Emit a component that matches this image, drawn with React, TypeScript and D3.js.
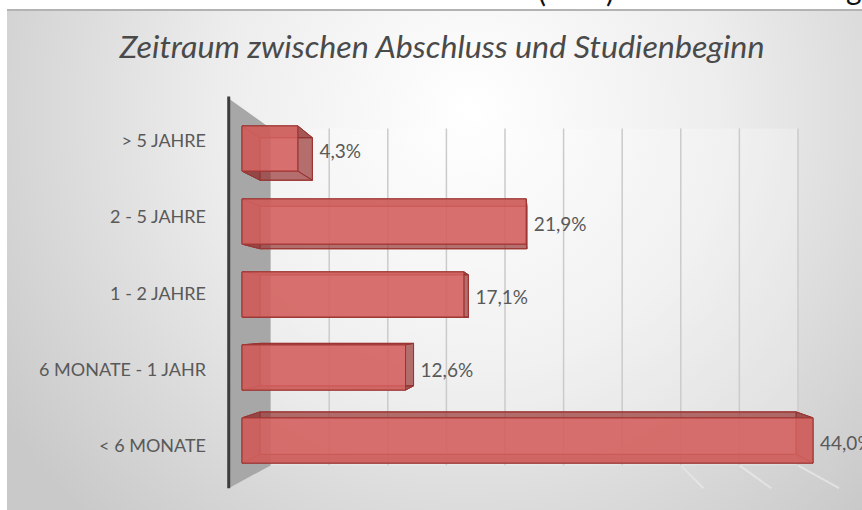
import React, { useRef, useEffect } from "react";
import * as d3 from "d3";

const categories = ["> 5 JAHRE", "2 - 5 JAHRE", "1 - 2 JAHRE", "6 MONATE - 1 JAHR", "< 6 MONATE"];
const values = [4.3, 21.9, 17.1, 12.6, 44.0];
const title = "Zeitraum zwischen Abschluss und Studienbeginn";

const W = 862;
const H = 510;

const App = () => {
  const ref = useRef<SVGSVGElement | null>(null);

  useEffect(() => {
    if (!ref.current) return;
    const svg = d3.select(ref.current);
    svg.selectAll("*").remove();

    // perspective: vanishing point and depth factors
    const vp = [537, 320];
    const sBarBack = 0.939;
    const sWallBack = 0.903;
    const sWallFront = 1.045;
    const proj = (x: number, y: number, s: number) => [vp[0] + s * (x - vp[0]), vp[1] + s * (y - vp[1])];

    const x = d3.scaleLinear().domain([0, 45]).range([242, 826]);
    const y = d3.scaleBand().domain(categories).range([108, 481]).paddingInner(0.38).paddingOuter(0.245);
    const yTop = 108;
    const yBot = 481;

    const fmt = d3.formatLocale({ decimal: ",", thousands: ".", grouping: [3], currency: ["", "€"] }).format(".1f");

    const defs = svg.append("defs");
    const bg = defs
      .append("radialGradient")
      .attr("id", "bg")
      .attr("gradientUnits", "userSpaceOnUse")
      .attr("cx", 470)
      .attr("cy", 110)
      .attr("r", 560);
    bg.append("stop").attr("offset", "0%").attr("stop-color", "#ffffff");
    bg.append("stop").attr("offset", "45%").attr("stop-color", "#ededed");
    bg.append("stop").attr("offset", "100%").attr("stop-color", "#c9c9c9");

    const fade = defs
      .append("linearGradient")
      .attr("id", "fade")
      .attr("gradientUnits", "userSpaceOnUse")
      .attr("x1", 640)
      .attr("x2", 700)
      .attr("y1", 0)
      .attr("y2", 0);
    fade.append("stop").attr("offset", "0%").attr("stop-color", "#000");
    fade.append("stop").attr("offset", "100%").attr("stop-color", "#aaa");
    defs
      .append("mask")
      .attr("id", "floorMask")
      .append("rect")
      .attr("x", 0)
      .attr("y", 0)
      .attr("width", W)
      .attr("height", H)
      .attr("fill", "url(#fade)");

    // page strip + chart area
    svg.append("rect").attr("width", W).attr("height", H).attr("fill", "#ffffff");
    const top = svg.append("g").attr("font-family", "Lato, sans-serif").attr("font-size", 30).attr("fill", "#111");
    top.append("text").attr("x", 538).attr("y", 2).text("(");
    top.append("text").attr("x", 606).attr("y", 2).text(")");
    top.append("text").attr("x", 846).attr("y", 0).text("g");
    svg.append("rect").attr("x", 7).attr("y", 10).attr("width", W - 7).attr("height", H - 10).attr("fill", "url(#bg)");
    svg.append("line").attr("x1", 7).attr("x2", W).attr("y1", 10).attr("y2", 10).attr("stroke", "#b3b3b3").attr("stroke-width", 2);

    // back wall
    const bw0 = proj(x(0), yTop, sWallBack);
    const bw1 = proj(x(45), yBot, sWallBack);
    svg
      .append("rect")
      .attr("x", bw0[0])
      .attr("y", bw0[1])
      .attr("width", bw1[0] - bw0[0])
      .attr("height", bw1[1] - bw0[1])
      .attr("fill", "#ffffff")
      .attr("opacity", 0.25);

    const ticks = x.ticks(10);

    // vertical gridlines on back wall
    svg
      .append("g")
      .selectAll("line")
      .data(ticks.filter((t) => t > 0))
      .enter()
      .append("line")
      .attr("x1", (d) => proj(x(d), yTop, sWallBack)[0])
      .attr("x2", (d) => proj(x(d), yBot, sWallBack)[0])
      .attr("y1", (d) => proj(x(d), yTop, sWallBack)[1])
      .attr("y2", (d) => proj(x(d), yBot, sWallBack)[1])
      .attr("stroke", "#cbcbcb")
      .attr("stroke-width", 1.5);

    // floor gridlines
    svg
      .append("g")
      .attr("mask", "url(#floorMask)")
      .selectAll("line")
      .data(ticks.filter((t) => t > 0))
      .enter()
      .append("line")
      .attr("x1", (d) => proj(x(d), yBot, sWallBack)[0])
      .attr("y1", (d) => proj(x(d), yBot, sWallBack)[1])
      .attr("x2", (d) => proj(x(d), yBot, sWallFront)[0])
      .attr("y2", (d) => proj(x(d), yBot, sWallFront)[1])
      .attr("stroke", "#ececec")
      .attr("stroke-width", 2);

    // side wall
    const wallPts = [
      proj(x(0), yTop, sWallFront),
      proj(x(0), yTop, sWallBack),
      proj(x(0), yBot, sWallBack),
      proj(x(0), yBot, sWallFront),
    ];
    svg.append("polygon").attr("points", wallPts.map((p) => p.join(",")).join(" ")).attr("fill", "#a7a7a7");
    svg
      .append("line")
      .attr("x1", wallPts[0][0])
      .attr("y1", wallPts[0][1] - 2)
      .attr("x2", wallPts[3][0])
      .attr("y2", wallPts[3][1])
      .attr("stroke", "#3d3d3d")
      .attr("stroke-width", 3);

    // bars
    const bars = svg.append("g").attr("stroke", "#9b3533").attr("stroke-width", 1).attr("stroke-linejoin", "round");
    const poly = (pts: number[][]) => pts.map((p) => p.join(",")).join(" ");
    categories.forEach((c, i) => {
      const x0 = x(0);
      const x1 = x(values[i]);
      const y0 = y(c) as number;
      const y1 = y0 + y.bandwidth();
      const F = [[x0, y0], [x1, y0], [x1, y1], [x0, y1]];
      const B = F.map((p) => proj(p[0], p[1], sBarBack));
      bars.append("polygon").attr("points", poly(B)).attr("fill", "#c0504d").attr("fill-opacity", 0.35);
      const sides = [
        [F[0], F[1], B[1], B[0]],
        [F[3], F[2], B[2], B[3]],
        [F[0], F[3], B[3], B[0]],
        [F[1], F[2], B[2], B[1]],
      ];
      sides.forEach((s) => {
        bars.append("polygon").attr("points", poly(s)).attr("fill", "#8e2f2d").attr("fill-opacity", 0.55);
      });
      bars.append("polygon").attr("points", poly(F)).attr("fill", "#d3625f").attr("fill-opacity", 0.85);
    });

    // category labels
    svg
      .append("g")
      .selectAll("text")
      .data(categories)
      .enter()
      .append("text")
      .attr("x", 206)
      .attr("y", (d) => proj(x(0), (y(d) as number) + y.bandwidth() / 2, sWallFront)[1])
      .attr("dy", "0.35em")
      .attr("text-anchor", "end")
      .attr("font-family", "Lato, sans-serif")
      .attr("font-size", 18)
      .attr("fill", "#595959")
      .text((d) => d);

    // value labels
    svg
      .append("g")
      .selectAll("text")
      .data(categories)
      .enter()
      .append("text")
      .attr("x", (d, i) => Math.max(x(values[i]), proj(x(values[i]), 0, sBarBack)[0]) + 7)
      .attr("y", (d) => (y(d) as number) + y.bandwidth() / 2 + 3)
      .attr("dy", "0.35em")
      .attr("font-family", "Lato, sans-serif")
      .attr("font-size", 19)
      .attr("fill", "#595959")
      .text((d, i) => fmt(values[i]) + "%");

    // title
    svg
      .append("text")
      .attr("x", 442)
      .attr("y", 58)
      .attr("text-anchor", "middle")
      .attr("font-family", "Lato, sans-serif")
      .attr("font-style", "italic")
      .attr("font-weight", 400)
      .attr("font-size", 30)
      .attr("textLength", 645)
      .attr("lengthAdjust", "spacingAndGlyphs")
      .attr("fill", "#4a4a4a")
      .text(title);
  }, []);

  return (
    <svg
      ref={ref}
      width={W}
      height={H}
      style={{ position: "absolute", left: 0, top: 0, display: "block" }}
    />
  );
};

export default App;
